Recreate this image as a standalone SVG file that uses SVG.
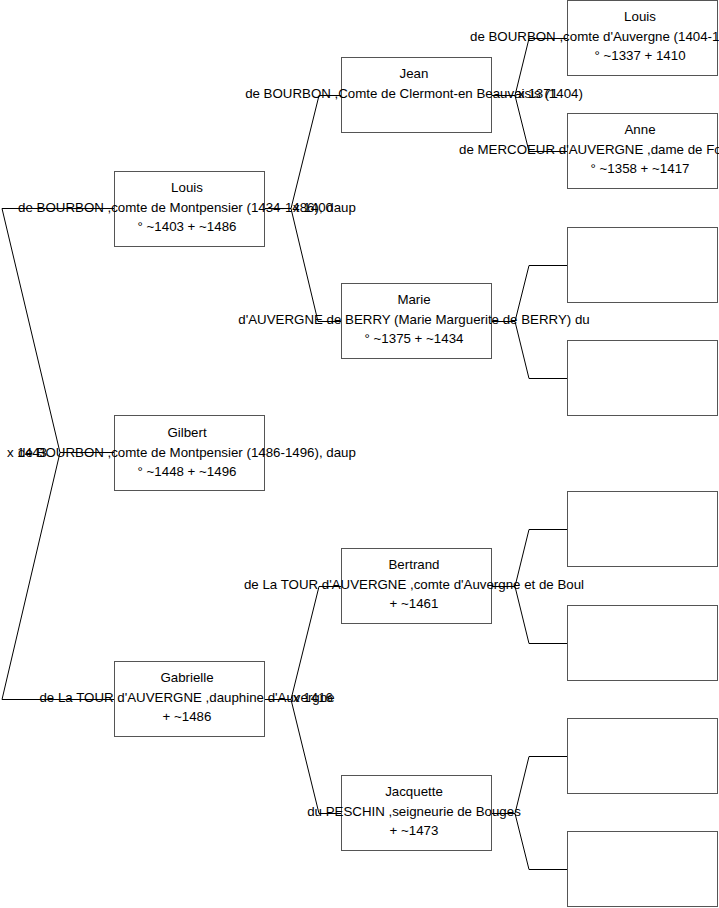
<svg xmlns="http://www.w3.org/2000/svg" width="719" height="908" viewBox="0 0 719 908">
<style>
.box{fill:#fff;stroke:#555;stroke-width:1}
.c{fill:none;stroke:#000;stroke-width:1}
text{font-family:"Liberation Sans",Arial,sans-serif;font-size:13.3px;fill:#000}
.m{text-anchor:middle}
</style>
<rect width="719" height="908" fill="#fff"/>
<g id="connectors">
<polyline class="c" points="114,452.5 60,452.5"/>
<polyline class="c" points="60,452.5 2,208.5 114,208.5"/>
<polyline class="c" points="60,452.5 2,699.5 114,699.5"/>
<polyline class="c" points="265,208.5 291,208.5 319,95.5 341,95.5"/>
<polyline class="c" points="291,208.5 318,321.5 341,321.5"/>
<polyline class="c" points="265,699.5 291,699.5 319,586.5 341,586.5"/>
<polyline class="c" points="291,699.5 319,813.5 341,813.5"/>
<polyline class="c" points="492,95.5 515,95.5 529,38.5 567,38.5"/>
<polyline class="c" points="515,95.5 529,151.5 567,151.5"/>
<polyline class="c" points="492,321.5 515,321.5 529,265.5 567,265.5"/>
<polyline class="c" points="515,321.5 529,378.5 567,378.5"/>
<polyline class="c" points="492,586.5 515,586.5 529,529.5 567,529.5"/>
<polyline class="c" points="515,586.5 529,643.5 567,643.5"/>
<polyline class="c" points="492,813.5 515,813.5 529,756.5 567,756.5"/>
<polyline class="c" points="515,813.5 529,869.5 567,869.5"/>
</g>
<g id="gilbert">
<rect class="box" x="114.5" y="415.5" width="150" height="75"/>
<text class="m" x="187" y="437">Gilbert</text>
<text class="m" x="187" y="457">de BOURBON ,comte de Montpensier (1486-1496), daup</text>
<text class="m" x="187" y="476">° ~1448 + ~1496</text>
<text x="7" y="457">x 1443</text>
</g>
<g id="louis2">
<rect class="box" x="114.5" y="171.5" width="150" height="75"/>
<text class="m" x="187" y="192">Louis</text>
<text class="m" x="187" y="212">de BOURBON ,comte de Montpensier (1434-1486), daup</text>
<text class="m" x="187" y="231">° ~1403 + ~1486</text>
<text x="293" y="212">x 1400</text>
</g>
<g id="gabrielle">
<rect class="box" x="114.5" y="661.5" width="150" height="75"/>
<text class="m" x="187" y="682">Gabrielle</text>
<text class="m" x="187" y="702">de La TOUR d'AUVERGNE ,dauphine d'Auvergne</text>
<text class="m" x="187" y="721">+ ~1486</text>
<text x="293" y="702">x 1416</text>
</g>
<g id="jean">
<rect class="box" x="341.5" y="57.5" width="150" height="75"/>
<text class="m" x="414" y="78">Jean</text>
<text class="m" x="414" y="98">de BOURBON ,Comte de Clermont-en Beauvaisis (1404)</text>
<text x="518" y="98">x 1371</text>
</g>
<g id="marie">
<rect class="box" x="341.5" y="283.5" width="150" height="75"/>
<text class="m" x="414" y="304">Marie</text>
<text class="m" x="414" y="324">d'AUVERGNE de BERRY (Marie Marguerite de BERRY) du</text>
<text class="m" x="414" y="343">° ~1375 + ~1434</text>
</g>
<g id="bertrand">
<rect class="box" x="341.5" y="548.5" width="150" height="75"/>
<text class="m" x="414" y="569">Bertrand</text>
<text class="m" x="414" y="589">de La TOUR d'AUVERGNE ,comte d'Auvergne et de Boul</text>
<text class="m" x="414" y="608">+ ~1461</text>
</g>
<g id="jacquette">
<rect class="box" x="341.5" y="775.5" width="150" height="75"/>
<text class="m" x="414" y="796">Jacquette</text>
<text class="m" x="414" y="816">du PESCHIN ,seigneurie de Bouges</text>
<text class="m" x="414" y="835">+ ~1473</text>
</g>
<g id="louis4">
<rect class="box" x="567.5" y="0.5" width="150" height="75"/>
<text class="m" x="640" y="21">Louis</text>
<text x="470" y="41">de BOURBON ,comte d'Auvergne (1404-1</text>
<text class="m" x="640" y="60">° ~1337 + 1410</text>
</g>
<g id="anne">
<rect class="box" x="567.5" y="113.5" width="150" height="75"/>
<text class="m" x="640" y="134">Anne</text>
<text x="459" y="154">de MERCOEUR d'AUVERGNE ,dame de Fo</text>
<text class="m" x="640" y="173">° ~1358 + ~1417</text>
</g>
<g id="empty1"><rect class="box" x="567.5" y="227.5" width="150" height="75"/></g>
<g id="empty2"><rect class="box" x="567.5" y="340.5" width="150" height="75"/></g>
<g id="empty3"><rect class="box" x="567.5" y="491.5" width="150" height="75"/></g>
<g id="empty4"><rect class="box" x="567.5" y="605.5" width="150" height="75"/></g>
<g id="empty5"><rect class="box" x="567.5" y="718.5" width="150" height="75"/></g>
<g id="empty6"><rect class="box" x="567.5" y="831.5" width="150" height="75"/></g>
</svg>
